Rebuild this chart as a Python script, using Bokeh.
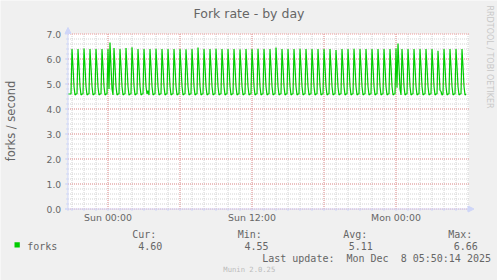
import math
import numpy as np
import pandas as pd
from bokeh.plotting import figure
from bokeh.models import Range1d, Label, Arrow, NormalHead
from bokeh.core.properties import value
from bokeh.embed import file_html
from bokeh.resources import INLINE

# ---------------- data ----------------
title = "Fork rate - by day"
y_label = "forks / second"
series_name = "forks"
first_sample = "2025-12-06 20:40"   # first 5-minute sample
sample_step = "5min"
view_start = "2025-12-06 20:40"
view_end = "2025-12-08 06:05"

forks = [
    4.60, 4.60, 4.60, 4.60,
    6.40, 5.70, 4.90, 4.56, 4.60, 4.60,  # Sat 21:00
    6.40, 5.70, 4.90, 4.56, 4.60, 4.60,  # 21:30
    6.42, 5.70, 4.90, 4.56, 4.60, 4.60,  # 22:00
    6.40, 5.68, 4.90, 4.56, 4.60, 4.60,  # 22:30
    6.40, 5.70, 4.88, 4.56, 4.60, 4.60,  # 23:00
    6.40, 5.70, 4.90, 4.56, 4.60, 4.60,  # 23:30
    6.40, 4.80, 6.66, 5.70, 4.80, 4.56,  # Sun 00:00
    6.44, 5.72, 4.90, 4.56, 4.60, 4.60,  # 00:30
    6.40, 5.70, 4.90, 4.56, 4.60, 4.60,  # 01:00
    6.44, 5.70, 4.90, 4.55, 4.60, 4.60,  # 01:30
    6.47, 5.74, 4.92, 4.56, 4.60, 4.60,  # 02:00
    6.40, 5.70, 4.90, 4.56, 4.60, 4.60,  # 02:30
    6.40, 5.70, 4.90, 4.60, 4.73, 4.56,  # 03:00
    6.40, 5.70, 4.90, 4.56, 4.60, 4.60,  # 03:30
    6.41, 5.70, 4.90, 4.56, 4.60, 4.60,  # 04:00
    6.40, 5.70, 4.90, 4.56, 4.60, 4.60,  # 04:30
    6.40, 5.69, 4.90, 4.56, 4.60, 4.60,  # 05:00
    6.40, 5.70, 4.90, 4.56, 4.60, 4.60,  # 05:30
    6.40, 5.70, 4.91, 4.56, 4.60, 4.60,  # 06:00
    6.39, 5.70, 4.90, 4.56, 4.60, 4.60,  # 06:30
    6.40, 5.70, 4.90, 4.56, 4.60, 4.60,  # 07:00
    6.46, 5.73, 4.90, 4.56, 4.60, 4.60,  # 07:30
    6.40, 5.70, 4.90, 4.56, 4.60, 4.60,  # 08:00
    6.40, 5.70, 4.90, 4.56, 4.60, 4.60,  # 08:30
    6.41, 5.70, 4.90, 4.56, 4.60, 4.60,  # 09:00
    6.40, 5.70, 4.90, 4.56, 4.60, 4.60,  # 09:30
    6.40, 5.71, 4.90, 4.56, 4.60, 4.60,  # 10:00
    6.40, 5.70, 4.90, 4.56, 4.60, 4.60,  # 10:30
    6.39, 5.70, 4.90, 4.56, 4.60, 4.60,  # 11:00
    6.40, 5.70, 4.90, 4.56, 4.60, 4.60,  # 11:30
    6.40, 5.70, 4.90, 4.56, 4.60, 4.60,  # 12:00
    6.41, 5.70, 4.89, 4.56, 4.60, 4.60,  # 12:30
    6.40, 5.70, 4.90, 4.56, 4.60, 4.60,  # 13:00
    6.40, 5.70, 4.90, 4.56, 4.60, 4.60,  # 13:30
    6.46, 5.74, 4.90, 4.56, 4.60, 4.60,  # 14:00
    6.40, 5.70, 4.90, 4.56, 4.60, 4.60,  # 14:30
    6.40, 5.70, 4.90, 4.56, 4.60, 4.60,  # 15:00
    6.40, 5.70, 4.90, 4.56, 4.60, 4.60,  # 15:30
    6.41, 5.70, 4.90, 4.56, 4.60, 4.60,  # 16:00
    6.40, 5.70, 4.90, 4.56, 4.60, 4.60,  # 16:30
    6.40, 5.70, 4.90, 4.56, 4.60, 4.60,  # 17:00
    6.40, 5.69, 4.90, 4.56, 4.60, 4.60,  # 17:30
    6.40, 5.70, 4.90, 4.56, 4.60, 4.60,  # 18:00
    6.40, 5.70, 4.90, 4.56, 4.60, 4.60,  # 18:30
    6.36, 5.66, 4.88, 4.56, 4.60, 4.60,  # 19:00
    6.40, 5.70, 4.90, 4.56, 4.60, 4.60,  # 19:30
    6.40, 5.70, 4.90, 4.56, 4.60, 4.60,  # 20:00
    6.41, 5.70, 4.90, 4.56, 4.60, 4.60,  # 20:30
    6.40, 5.70, 4.90, 4.56, 4.60, 4.60,  # 21:00
    6.40, 5.70, 4.90, 4.56, 4.60, 4.60,  # 21:30
    6.40, 5.70, 4.90, 4.56, 4.60, 4.60,  # 22:00
    6.40, 5.70, 4.90, 4.56, 4.60, 4.60,  # 22:30
    6.40, 5.70, 4.90, 4.56, 4.60, 4.60,  # 23:00
    6.40, 5.70, 4.90, 4.56, 4.60, 4.60,  # 23:30
    6.42, 4.85, 6.62, 5.70, 4.80, 4.56,  # Mon 00:00
    6.40, 5.70, 4.90, 4.56, 4.60, 4.60,  # 00:30
    6.40, 5.70, 4.90, 4.56, 4.60, 4.60,  # 01:00
    6.40, 5.70, 4.90, 4.56, 4.60, 4.60,  # 01:30
    6.40, 5.70, 4.90, 4.56, 4.60, 4.60,  # 02:00
    6.40, 5.70, 4.90, 4.56, 4.60, 4.60,  # 02:30
    6.40, 5.70, 4.90, 4.56, 4.60, 4.60,  # 03:00
    6.33, 5.60, 4.75, 4.70, 4.56, 4.60,  # 03:30
    6.40, 5.70, 4.90, 4.56, 4.60, 4.60,  # 04:00
    6.40, 5.70, 4.90, 4.56, 4.60, 4.60,  # 04:30
    6.40, 5.70, 4.90, 4.56, 4.60, 4.60,  # 05:00
    6.40, 5.70, 4.90, 4.56, 4.60,        # 05:30
]

x_tick_times = ["2025-12-07 00:00", "2025-12-07 12:00", "2025-12-08 00:00"]
x_tick_labels = ["Sun 00:00", "Sun 12:00", "Mon 00:00"]
major_grid_times = ["2025-12-07 00:00", "2025-12-07 06:00", "2025-12-07 12:00",
                    "2025-12-07 18:00", "2025-12-08 00:00"]
y_ticks = [0, 1, 2, 3, 4, 5, 6, 7]
y_tick_labels = ["0.0", "1.0", "2.0", "3.0", "4.0", "5.0", "6.0", "7.0"]
y_min, y_max = 0, 7
stat_names = ["Cur:", "Min:", "Avg:", "Max:"]
stat_values = ["4.60", "4.55", "5.11", "6.66"]
last_update = "Last update:  Mon Dec  8 05:50:14 2025"
footer = "Munin 2.0.25"
side_text = "RRDTOOL / TOBI OETIKER"

# ---------------- layout / style ----------------
W, H = 497, 280
BG = "#F0F0F0"
FONT_C = "#666666"
AXIS_C = "#CFD6F8"
LINE_C = "#00CC00"
MINOR_C = "#D2D2D2"
MAJOR_C = "#EE9A9A"
LEGEND_SIZE = "10px"


def ms(s):
    return pd.Timestamp(s).value / 1e6


HOUR = 3600e3
PX_PER_HOUR = 12.0
MPP = HOUR / PX_PER_HOUR          # ms per pixel
ANCHOR_T = ms("2025-12-08 00:00")  # time that sits at canvas px ANCHOR_PX
ANCHOR_PX = 395.5
PLOT_TOP_PX, PLOT_BOT_PX = 33.5, 208.5


def X(px):  # canvas pixel -> x data
    return ANCHOR_T + (px - ANCHOR_PX) * MPP


def Y(py):  # canvas pixel -> y data
    return y_max * (PLOT_BOT_PX - py) / (PLOT_BOT_PX - PLOT_TOP_PX)


p = figure(width=W, height=H, x_range=Range1d(X(0), X(W)), y_range=Range1d(Y(H), Y(0)),
           output_backend="svg", toolbar_location=None, title=None,
           x_axis_location=None, y_axis_location=None, min_border=0,
           background_fill_color=BG, border_fill_color=BG, outline_line_color=None)
p.xgrid.visible = False
p.ygrid.visible = False

t0, t1 = ms(view_start), ms(view_end)
times = pd.date_range(first_sample, periods=len(forks), freq=sample_step)
t_ms = times.values.astype("datetime64[ms]").astype(np.int64).astype(float)

# canvas (plot area)
p.quad(left=[t0], right=[t1], bottom=[y_min], top=[y_max], fill_color="white", line_color=None)

# minor grid
hours = [ms(t) for t in pd.date_range("2025-12-06 21:00", view_end, freq="1h")]
y_minor = [round(v, 1) for v in np.arange(0.2, 7.0, 0.2)]
p.segment(x0=hours, y0=[y_min] * len(hours), x1=hours, y1=[y_max] * len(hours),
          line_color=MINOR_C, line_width=1, line_dash="1 1")
p.segment(x0=[t0] * len(y_minor), y0=y_minor, x1=[t1] * len(y_minor), y1=y_minor,
          line_color=MINOR_C, line_width=1, line_dash="1 1")
# major grid
mg = [ms(t) for t in major_grid_times]
p.segment(x0=mg, y0=[y_min] * len(mg), x1=mg, y1=[y_max] * len(mg),
          line_color=MAJOR_C, line_width=1, line_dash="1 1")
p.segment(x0=[t0] * len(y_ticks), y0=y_ticks, x1=[t1] * len(y_ticks), y1=y_ticks,
          line_color=MAJOR_C, line_width=1, line_dash="1 1")

# data
p.line(t_ms, forks, line_color=LINE_C, line_width=1.2)

# axes with ticks
p.segment(x0=[t0] * len(y_minor), y0=y_minor, x1=[t0 - 2 * MPP] * len(y_minor), y1=y_minor,
          line_color=AXIS_C, line_width=1)
p.segment(x0=[t0] * len(y_ticks), y0=y_ticks, x1=[t0 - 3 * MPP] * len(y_ticks), y1=y_ticks,
          line_color=AXIS_C, line_width=1)
p.segment(x0=hours, y0=[y_min] * len(hours), x1=hours, y1=[y_min - 2 / 25] * len(hours),
          line_color=AXIS_C, line_width=1)
p.add_layout(Arrow(end=NormalHead(size=6, fill_color=AXIS_C, line_color=AXIS_C, line_width=1),
                   x_start=t0, y_start=y_min - 2 / 25, x_end=t0, y_end=Y(27),
                   line_color=AXIS_C, line_width=1))
p.add_layout(Arrow(end=NormalHead(size=6, fill_color=AXIS_C, line_color=AXIS_C, line_width=1),
                   x_start=t0 - 3 * MPP, y_start=y_min, x_end=X(473.5), y_end=y_min,
                   line_color=AXIS_C, line_width=1))

# tick labels
p.text(x=[t0 - 6.8 * MPP] * len(y_ticks), y=y_ticks, text=y_tick_labels,
       text_font=value("DejaVu Sans"), text_font_size="9.2px", text_color=FONT_C,
       text_align="right", text_baseline="middle")
xt = [ms(t) for t in x_tick_times]
p.text(x=xt, y=[Y(216.8)] * len(xt), text=x_tick_labels,
       text_font=value("DejaVu Sans"), text_font_size="9.4px", text_color=FONT_C,
       text_align="center", text_baseline="middle")


def lab(px, py, text, font="DejaVu Sans Mono", size=LEGEND_SIZE, color=FONT_C,
        align="left", angle=0.0):
    # keep runs of spaces visible in SVG text
    shown = text.replace("  ", " \u00a0")
    p.add_layout(Label(x=X(px), y=Y(py), text=shown, text_font=font,
                       text_font_size=size, text_color=color, text_align=align,
                       text_baseline="middle", angle=angle))


# title and axis label
lab(248.5, 13, title, font="DejaVu Sans", size="12.5px", align="center")
lab(10.5, 120.5, y_label, font="DejaVu Sans", size="11.5px", align="center", angle=math.pi / 2)
# side watermark
lab(488.5, 56.5, side_text, font="DejaVu Sans", size="8px", color="#C8C8C8",
    align="center", angle=-math.pi / 2)

# legend
p.quad(left=[X(14)], right=[X(19.3)], top=[Y(241.7)], bottom=[Y(247)],
       fill_color=LINE_C, line_color=None)
lab(26.7, 245.5, series_name)
name_x = [131.7, 237.3, 342.7, 447.7]
val_x = [137.7, 244.0, 348.3, 453.3]
for nx, vx, n, v in zip(name_x, val_x, stat_names, stat_values):
    lab(nx, 233.7, n)
    lab(vx, 245.5, v)
lab(261.7, 257.5, last_update, align="left")
lab(248.8, 269, footer, size="7.2px", color="#BBBBBB", align="center")

open("out.html", "w").write(file_html(p, INLINE))
